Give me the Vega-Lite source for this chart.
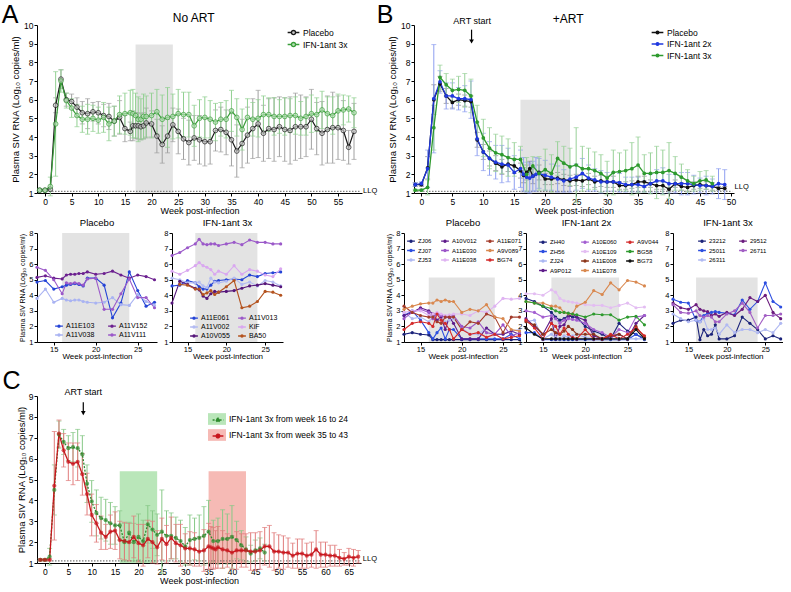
{
"$schema": "https://vega.github.io/schema/vega-lite/v6.json",
"padding": {"left": 1, "top": 3, "right": 0, "bottom": 0},
"config": {
  "font": "Liberation Sans, Arial, DejaVu Sans, sans-serif",
  "view": {"stroke": null},
  "axis": {"grid": false, "domainColor": "#000", "domainWidth": 1, "tickColor": "#000", "tickWidth": 1, "tickSize": 3, "labelColor": "#000", "titleColor": "#000", "labelFontSize": 8.5, "titleFontSize": 9, "titleFontWeight": "normal", "labelPadding": 1, "titlePadding": 2},
  "title": {"fontWeight": "normal", "fontSize": 9.5, "color": "#000", "offset": 2},
  "legend": {"labelColor": "#000", "padding": 0, "rowPadding": 0, "columnPadding": 5, "labelOffset": 3, "symbolStrokeWidth": 1.3, "titlePadding": 0}
},
"datasets": {
"at": [
{"w":-1,"g":"Placebo","v":1.15,"e":0.05},{"w":0,"g":"Placebo","v":1.15,"e":0.05},{"w":1,"g":"Placebo","v":1.2,"e":0.1},{"w":2,"g":"Placebo","v":5.7,"e":0.4},{"w":3,"g":"Placebo","v":7.1,"e":0.5},{"w":4,"g":"Placebo","v":6.0,"e":0.35},{"w":5,"g":"Placebo","v":5.9,"e":0.4},{"w":6,"g":"Placebo","v":5.6,"e":0.5},{"w":7,"g":"Placebo","v":5.3,"e":0.6},{"w":8,"g":"Placebo","v":5.25,"e":0.8},{"w":9,"g":"Placebo","v":5.35,"e":0.5},{"w":10,"g":"Placebo","v":5.3,"e":0.6},{"w":11,"g":"Placebo","v":5.15,"e":0.6},{"w":12,"g":"Placebo","v":5.1,"e":0.7},{"w":13,"g":"Placebo","v":4.85,"e":0.8},{"w":14,"g":"Placebo","v":5.05,"e":0.9},{"w":15,"g":"Placebo","v":4.45,"e":0.7},{"w":16,"g":"Placebo","v":4.3,"e":0.5},{"w":16.5,"g":"Placebo","v":4.6,"e":0.8},{"w":17,"g":"Placebo","v":4.6,"e":0.7},{"w":17.5,"g":"Placebo","v":4.6,"e":0.7},{"w":18,"g":"Placebo","v":4.55,"e":0.7},{"w":18.5,"g":"Placebo","v":4.6,"e":0.7},{"w":19,"g":"Placebo","v":4.75,"e":0.8},{"w":20,"g":"Placebo","v":4.7,"e":0.7},{"w":21,"g":"Placebo","v":4.05,"e":0.9},{"w":22,"g":"Placebo","v":3.6,"e":1.0},{"w":23,"g":"Placebo","v":4.05,"e":0.9},{"w":24,"g":"Placebo","v":4.65,"e":0.9},{"w":25,"g":"Placebo","v":4.3,"e":1.2},{"w":26,"g":"Placebo","v":3.9,"e":1.1},{"w":27,"g":"Placebo","v":3.7,"e":1.2},{"w":28,"g":"Placebo","v":3.95,"e":1.2},{"w":29,"g":"Placebo","v":3.85,"e":1.3},{"w":30,"g":"Placebo","v":3.75,"e":1.3},{"w":31,"g":"Placebo","v":3.75,"e":1.2},{"w":32,"g":"Placebo","v":4.35,"e":1.1},{"w":33,"g":"Placebo","v":4.4,"e":1.2},{"w":34,"g":"Placebo","v":4.25,"e":1.2},{"w":35,"g":"Placebo","v":3.85,"e":1.4},{"w":36,"g":"Placebo","v":3.25,"e":1.4},{"w":37,"g":"Placebo","v":3.65,"e":1.3},{"w":38,"g":"Placebo","v":4.1,"e":1.5},{"w":39,"g":"Placebo","v":4.45,"e":1.6},{"w":40,"g":"Placebo","v":4.7,"e":1.8},{"w":41,"g":"Placebo","v":4.2,"e":1.5},{"w":42,"g":"Placebo","v":4.45,"e":1.6},{"w":43,"g":"Placebo","v":4.4,"e":1.7},{"w":44,"g":"Placebo","v":4.55,"e":1.6},{"w":45,"g":"Placebo","v":4.4,"e":1.7},{"w":46,"g":"Placebo","v":4.35,"e":1.8},{"w":47,"g":"Placebo","v":4.55,"e":1.8},{"w":48,"g":"Placebo","v":4.55,"e":1.7},{"w":49,"g":"Placebo","v":4.55,"e":1.6},{"w":50,"g":"Placebo","v":4.95,"e":1.6},{"w":51,"g":"Placebo","v":4.45,"e":1.4},{"w":52,"g":"Placebo","v":4.2,"e":1.7},{"w":53,"g":"Placebo","v":4.4,"e":1.8},{"w":54,"g":"Placebo","v":4.5,"e":1.9},{"w":55,"g":"Placebo","v":4.5,"e":1.7},{"w":56,"g":"Placebo","v":4.35,"e":1.6},{"w":57,"g":"Placebo","v":3.45,"e":0.9},{"w":58,"g":"Placebo","v":4.3,"e":1.5},
{"w":-1,"g":"IFN-1ant 3x","v":1.15,"e":0.05},{"w":0,"g":"IFN-1ant 3x","v":1.15,"e":0.05},{"w":1,"g":"IFN-1ant 3x","v":1.35,"e":0.5},{"w":2,"g":"IFN-1ant 3x","v":4.7,"e":2.8},{"w":3,"g":"IFN-1ant 3x","v":7.0,"e":0.6},{"w":4,"g":"IFN-1ant 3x","v":5.95,"e":0.4},{"w":5,"g":"IFN-1ant 3x","v":5.55,"e":0.5},{"w":6,"g":"IFN-1ant 3x","v":5.15,"e":0.6},{"w":7,"g":"IFN-1ant 3x","v":4.95,"e":0.7},{"w":8,"g":"IFN-1ant 3x","v":4.95,"e":0.8},{"w":9,"g":"IFN-1ant 3x","v":5.0,"e":0.7},{"w":10,"g":"IFN-1ant 3x","v":4.9,"e":0.7},{"w":11,"g":"IFN-1ant 3x","v":5.05,"e":0.8},{"w":12,"g":"IFN-1ant 3x","v":4.7,"e":0.9},{"w":13,"g":"IFN-1ant 3x","v":4.85,"e":0.8},{"w":14,"g":"IFN-1ant 3x","v":5.2,"e":1.0},{"w":15,"g":"IFN-1ant 3x","v":5.25,"e":1.1},{"w":16,"g":"IFN-1ant 3x","v":5.3,"e":1.2},{"w":16.5,"g":"IFN-1ant 3x","v":5.25,"e":1.3},{"w":17,"g":"IFN-1ant 3x","v":5.15,"e":1.2},{"w":17.5,"g":"IFN-1ant 3x","v":4.95,"e":1.2},{"w":18,"g":"IFN-1ant 3x","v":4.95,"e":1.1},{"w":18.5,"g":"IFN-1ant 3x","v":5.1,"e":1.2},{"w":19,"g":"IFN-1ant 3x","v":5.1,"e":1.1},{"w":20,"g":"IFN-1ant 3x","v":5.15,"e":1.2},{"w":21,"g":"IFN-1ant 3x","v":5.35,"e":1.2},{"w":22,"g":"IFN-1ant 3x","v":4.95,"e":1.3},{"w":23,"g":"IFN-1ant 3x","v":5.05,"e":1.6},{"w":24,"g":"IFN-1ant 3x","v":5.1,"e":1.2},{"w":25,"g":"IFN-1ant 3x","v":5.25,"e":1.3},{"w":26,"g":"IFN-1ant 3x","v":5.2,"e":1.2},{"w":27,"g":"IFN-1ant 3x","v":5.2,"e":1.2},{"w":28,"g":"IFN-1ant 3x","v":4.6,"e":1.1},{"w":29,"g":"IFN-1ant 3x","v":5.0,"e":1.0},{"w":30,"g":"IFN-1ant 3x","v":5.05,"e":1.1},{"w":31,"g":"IFN-1ant 3x","v":4.95,"e":1.0},{"w":32,"g":"IFN-1ant 3x","v":4.8,"e":1.0},{"w":33,"g":"IFN-1ant 3x","v":4.95,"e":0.9},{"w":34,"g":"IFN-1ant 3x","v":4.95,"e":1.0},{"w":35,"g":"IFN-1ant 3x","v":5.4,"e":1.1},{"w":36,"g":"IFN-1ant 3x","v":5.05,"e":1.0},{"w":37,"g":"IFN-1ant 3x","v":4.4,"e":1.1},{"w":38,"g":"IFN-1ant 3x","v":5.05,"e":1.0},{"w":39,"g":"IFN-1ant 3x","v":4.95,"e":0.9},{"w":40,"g":"IFN-1ant 3x","v":5.0,"e":1.0},{"w":41,"g":"IFN-1ant 3x","v":5.2,"e":1.0},{"w":42,"g":"IFN-1ant 3x","v":5.2,"e":0.9},{"w":43,"g":"IFN-1ant 3x","v":5.1,"e":1.0},{"w":44,"g":"IFN-1ant 3x","v":5.1,"e":0.9},{"w":45,"g":"IFN-1ant 3x","v":5.1,"e":1.0},{"w":46,"g":"IFN-1ant 3x","v":5.15,"e":0.9},{"w":47,"g":"IFN-1ant 3x","v":5.15,"e":1.0},{"w":48,"g":"IFN-1ant 3x","v":5.0,"e":0.9},{"w":49,"g":"IFN-1ant 3x","v":5.1,"e":1.0},{"w":50,"g":"IFN-1ant 3x","v":5.25,"e":1.0},{"w":51,"g":"IFN-1ant 3x","v":5.2,"e":0.9},{"w":52,"g":"IFN-1ant 3x","v":5.45,"e":1.0},{"w":53,"g":"IFN-1ant 3x","v":5.25,"e":0.9},{"w":54,"g":"IFN-1ant 3x","v":5.15,"e":1.0},{"w":55,"g":"IFN-1ant 3x","v":5.4,"e":0.9},{"w":56,"g":"IFN-1ant 3x","v":5.45,"e":0.8},{"w":57,"g":"IFN-1ant 3x","v":5.5,"e":0.7},{"w":58,"g":"IFN-1ant 3x","v":5.3,"e":0.8}
],
"bt": [
{"w":-1,"g":"Placebo","v":1.45,"e":0.1},{"w":0,"g":"Placebo","v":1.45,"e":0.1},{"w":1,"g":"Placebo","v":2.35,"e":0.6},{"w":2,"g":"Placebo","v":6.0,"e":0.8},{"w":3,"g":"Placebo","v":6.85,"e":0.4},{"w":4,"g":"Placebo","v":6.2,"e":0.4},{"w":5,"g":"Placebo","v":5.85,"e":0.3},{"w":6,"g":"Placebo","v":6.0,"e":0.3},{"w":7,"g":"Placebo","v":5.95,"e":0.3},{"w":8,"g":"Placebo","v":5.9,"e":0.3},{"w":9,"g":"Placebo","v":3.85,"e":0.4},{"w":10,"g":"Placebo","v":3.2,"e":0.4},{"w":11,"g":"Placebo","v":2.85,"e":0.4},{"w":12,"g":"Placebo","v":2.6,"e":0.4},{"w":13,"g":"Placebo","v":2.4,"e":0.4},{"w":14,"g":"Placebo","v":2.55,"e":0.4},{"w":15,"g":"Placebo","v":2.45,"e":0.4},{"w":16,"g":"Placebo","v":2.2,"e":0.4},{"w":16.5,"g":"Placebo","v":1.95,"e":0.4},{"w":17,"g":"Placebo","v":2.1,"e":0.4},{"w":17.5,"g":"Placebo","v":2.3,"e":0.4},{"w":18,"g":"Placebo","v":1.9,"e":0.4},{"w":19,"g":"Placebo","v":2.1,"e":0.4},{"w":20,"g":"Placebo","v":1.75,"e":0.3},{"w":21,"g":"Placebo","v":1.75,"e":0.3},{"w":22,"g":"Placebo","v":1.8,"e":0.3},{"w":23,"g":"Placebo","v":1.7,"e":0.3},{"w":24,"g":"Placebo","v":1.65,"e":0.3},{"w":25,"g":"Placebo","v":1.7,"e":0.3},{"w":26,"g":"Placebo","v":1.65,"e":0.3},{"w":27,"g":"Placebo","v":1.75,"e":0.3},{"w":28,"g":"Placebo","v":1.6,"e":0.3},{"w":29,"g":"Placebo","v":1.65,"e":0.3},{"w":30,"g":"Placebo","v":1.6,"e":0.3},{"w":31,"g":"Placebo","v":1.6,"e":0.3},{"w":32,"g":"Placebo","v":1.4,"e":0.2},{"w":33,"g":"Placebo","v":1.4,"e":0.2},{"w":34,"g":"Placebo","v":1.45,"e":0.2},{"w":35,"g":"Placebo","v":1.6,"e":0.3},{"w":36,"g":"Placebo","v":1.6,"e":0.3},{"w":37,"g":"Placebo","v":1.5,"e":0.2},{"w":38,"g":"Placebo","v":1.4,"e":0.2},{"w":39,"g":"Placebo","v":1.4,"e":0.2},{"w":40,"g":"Placebo","v":1.2,"e":0.1},{"w":41,"g":"Placebo","v":1.5,"e":0.2},{"w":42,"g":"Placebo","v":1.35,"e":0.2},{"w":43,"g":"Placebo","v":1.3,"e":0.2},{"w":44,"g":"Placebo","v":1.4,"e":0.2},{"w":45,"g":"Placebo","v":1.45,"e":0.2},{"w":46,"g":"Placebo","v":1.4,"e":0.2},{"w":47,"g":"Placebo","v":1.35,"e":0.2},{"w":48,"g":"Placebo","v":1.25,"e":0.1},{"w":49,"g":"Placebo","v":1.25,"e":0.1},
{"w":-1,"g":"IFN-1ant 2x","v":1.45,"e":0.1},{"w":0,"g":"IFN-1ant 2x","v":1.5,"e":0.1},{"w":1,"g":"IFN-1ant 2x","v":2.3,"e":1.0},{"w":2,"g":"IFN-1ant 2x","v":6.05,"e":2.9},{"w":3,"g":"IFN-1ant 2x","v":6.95,"e":0.6},{"w":4,"g":"IFN-1ant 2x","v":6.2,"e":0.7},{"w":5,"g":"IFN-1ant 2x","v":6.2,"e":0.7},{"w":6,"g":"IFN-1ant 2x","v":6.05,"e":0.6},{"w":7,"g":"IFN-1ant 2x","v":6.05,"e":0.7},{"w":8,"g":"IFN-1ant 2x","v":6.0,"e":1.0},{"w":9,"g":"IFN-1ant 2x","v":3.9,"e":0.9},{"w":10,"g":"IFN-1ant 2x","v":3.2,"e":1.0},{"w":11,"g":"IFN-1ant 2x","v":2.85,"e":0.9},{"w":12,"g":"IFN-1ant 2x","v":2.65,"e":0.9},{"w":13,"g":"IFN-1ant 2x","v":2.55,"e":1.0},{"w":14,"g":"IFN-1ant 2x","v":2.5,"e":0.9},{"w":15,"g":"IFN-1ant 2x","v":2.1,"e":0.9},{"w":16,"g":"IFN-1ant 2x","v":2.3,"e":1.0},{"w":16.5,"g":"IFN-1ant 2x","v":2.0,"e":0.9},{"w":17,"g":"IFN-1ant 2x","v":1.85,"e":0.8},{"w":17.5,"g":"IFN-1ant 2x","v":1.8,"e":0.8},{"w":18,"g":"IFN-1ant 2x","v":1.9,"e":0.8},{"w":18.5,"g":"IFN-1ant 2x","v":2.0,"e":0.9},{"w":19,"g":"IFN-1ant 2x","v":2.05,"e":0.8},{"w":20,"g":"IFN-1ant 2x","v":1.95,"e":0.8},{"w":21,"g":"IFN-1ant 2x","v":1.85,"e":0.7},{"w":22,"g":"IFN-1ant 2x","v":1.75,"e":0.7},{"w":23,"g":"IFN-1ant 2x","v":1.65,"e":0.6},{"w":24,"g":"IFN-1ant 2x","v":1.75,"e":0.7},{"w":25,"g":"IFN-1ant 2x","v":1.85,"e":0.7},{"w":26,"g":"IFN-1ant 2x","v":2.05,"e":0.8},{"w":27,"g":"IFN-1ant 2x","v":1.8,"e":0.7},{"w":28,"g":"IFN-1ant 2x","v":1.7,"e":0.6},{"w":29,"g":"IFN-1ant 2x","v":1.6,"e":0.6},{"w":30,"g":"IFN-1ant 2x","v":1.6,"e":0.5},{"w":31,"g":"IFN-1ant 2x","v":1.6,"e":0.5},{"w":32,"g":"IFN-1ant 2x","v":1.55,"e":0.5},{"w":33,"g":"IFN-1ant 2x","v":1.45,"e":0.4},{"w":34,"g":"IFN-1ant 2x","v":1.45,"e":0.4},{"w":35,"g":"IFN-1ant 2x","v":1.45,"e":0.4},{"w":36,"g":"IFN-1ant 2x","v":1.35,"e":0.3},{"w":37,"g":"IFN-1ant 2x","v":1.5,"e":0.5},{"w":38,"g":"IFN-1ant 2x","v":1.65,"e":0.6},{"w":39,"g":"IFN-1ant 2x","v":1.65,"e":0.7},{"w":40,"g":"IFN-1ant 2x","v":1.5,"e":0.5},{"w":41,"g":"IFN-1ant 2x","v":1.5,"e":0.5},{"w":42,"g":"IFN-1ant 2x","v":1.5,"e":0.6},{"w":43,"g":"IFN-1ant 2x","v":1.5,"e":0.6},{"w":44,"g":"IFN-1ant 2x","v":1.45,"e":0.5},{"w":45,"g":"IFN-1ant 2x","v":1.4,"e":0.4},{"w":46,"g":"IFN-1ant 2x","v":1.4,"e":0.5},{"w":47,"g":"IFN-1ant 2x","v":1.35,"e":0.4},{"w":48,"g":"IFN-1ant 2x","v":1.5,"e":0.8},{"w":49,"g":"IFN-1ant 2x","v":1.45,"e":0.8},
{"w":-1,"g":"IFN-1ant 3x","v":1.15,"e":0.05},{"w":0,"g":"IFN-1ant 3x","v":1.15,"e":0.05},{"w":1,"g":"IFN-1ant 3x","v":1.3,"e":0.4},{"w":2,"g":"IFN-1ant 3x","v":4.5,"e":1.2},{"w":3,"g":"IFN-1ant 3x","v":7.2,"e":0.65},{"w":4,"g":"IFN-1ant 3x","v":6.8,"e":0.6},{"w":5,"g":"IFN-1ant 3x","v":6.5,"e":0.6},{"w":6,"g":"IFN-1ant 3x","v":6.55,"e":0.7},{"w":7,"g":"IFN-1ant 3x","v":6.5,"e":0.9},{"w":8,"g":"IFN-1ant 3x","v":6.2,"e":0.9},{"w":9,"g":"IFN-1ant 3x","v":4.8,"e":0.9},{"w":10,"g":"IFN-1ant 3x","v":3.95,"e":1.0},{"w":11,"g":"IFN-1ant 3x","v":3.4,"e":1.1},{"w":12,"g":"IFN-1ant 3x","v":3.15,"e":1.0},{"w":13,"g":"IFN-1ant 3x","v":3.05,"e":1.0},{"w":14,"g":"IFN-1ant 3x","v":2.9,"e":1.0},{"w":15,"g":"IFN-1ant 3x","v":2.8,"e":0.9},{"w":16,"g":"IFN-1ant 3x","v":2.8,"e":0.7},{"w":17,"g":"IFN-1ant 3x","v":2.0,"e":0.9},{"w":18,"g":"IFN-1ant 3x","v":2.45,"e":0.5},{"w":19,"g":"IFN-1ant 3x","v":2.05,"e":0.9},{"w":20,"g":"IFN-1ant 3x","v":2.25,"e":1.1},{"w":21,"g":"IFN-1ant 3x","v":2.05,"e":1.0},{"w":22,"g":"IFN-1ant 3x","v":2.85,"e":0.9},{"w":23,"g":"IFN-1ant 3x","v":2.6,"e":0.9},{"w":24,"g":"IFN-1ant 3x","v":2.4,"e":1.0},{"w":25,"g":"IFN-1ant 3x","v":2.5,"e":2.0},{"w":26,"g":"IFN-1ant 3x","v":2.3,"e":1.2},{"w":27,"g":"IFN-1ant 3x","v":2.3,"e":1.1},{"w":28,"g":"IFN-1ant 3x","v":2.2,"e":1.0},{"w":29,"g":"IFN-1ant 3x","v":2.05,"e":1.0},{"w":30,"g":"IFN-1ant 3x","v":1.8,"e":0.9},{"w":31,"g":"IFN-1ant 3x","v":2.1,"e":1.2},{"w":32,"g":"IFN-1ant 3x","v":2.15,"e":1.0},{"w":33,"g":"IFN-1ant 3x","v":2.2,"e":1.1},{"w":34,"g":"IFN-1ant 3x","v":2.3,"e":1.4},{"w":35,"g":"IFN-1ant 3x","v":2.5,"e":1.5},{"w":36,"g":"IFN-1ant 3x","v":2.05,"e":1.0},{"w":37,"g":"IFN-1ant 3x","v":2.05,"e":1.1},{"w":38,"g":"IFN-1ant 3x","v":2.1,"e":1.4},{"w":39,"g":"IFN-1ant 3x","v":2.1,"e":1.2},{"w":40,"g":"IFN-1ant 3x","v":2.2,"e":1.5},{"w":41,"g":"IFN-1ant 3x","v":2.05,"e":0.9},{"w":42,"g":"IFN-1ant 3x","v":1.85,"e":0.7},{"w":43,"g":"IFN-1ant 3x","v":1.65,"e":0.6},{"w":44,"g":"IFN-1ant 3x","v":1.5,"e":0.4},{"w":45,"g":"IFN-1ant 3x","v":1.65,"e":0.5},{"w":46,"g":"IFN-1ant 3x","v":1.7,"e":0.5},{"w":47,"g":"IFN-1ant 3x","v":1.5,"e":0.4}
],
"cc": [
{"w":-1,"g":"IFN-1ant 3x from week 16 to 24","v":1.15,"e":0.05},{"w":0,"g":"IFN-1ant 3x from week 16 to 24","v":1.15,"e":0.05},{"w":1,"g":"IFN-1ant 3x from week 16 to 24","v":1.3,"e":0.4},{"w":2,"g":"IFN-1ant 3x from week 16 to 24","v":4.5,"e":1.2},{"w":3,"g":"IFN-1ant 3x from week 16 to 24","v":7.15,"e":0.65},{"w":4,"g":"IFN-1ant 3x from week 16 to 24","v":6.8,"e":0.6},{"w":5,"g":"IFN-1ant 3x from week 16 to 24","v":6.5,"e":0.6},{"w":6,"g":"IFN-1ant 3x from week 16 to 24","v":6.55,"e":0.7},{"w":7,"g":"IFN-1ant 3x from week 16 to 24","v":6.5,"e":0.9},{"w":8,"g":"IFN-1ant 3x from week 16 to 24","v":6.2,"e":0.9},{"w":9,"g":"IFN-1ant 3x from week 16 to 24","v":4.8,"e":0.9},{"w":10,"g":"IFN-1ant 3x from week 16 to 24","v":3.95,"e":1.0},{"w":11,"g":"IFN-1ant 3x from week 16 to 24","v":3.4,"e":1.1},{"w":12,"g":"IFN-1ant 3x from week 16 to 24","v":3.15,"e":1.0},{"w":13,"g":"IFN-1ant 3x from week 16 to 24","v":3.05,"e":1.0},{"w":14,"g":"IFN-1ant 3x from week 16 to 24","v":2.9,"e":1.0},{"w":15,"g":"IFN-1ant 3x from week 16 to 24","v":2.8,"e":0.9},{"w":16,"g":"IFN-1ant 3x from week 16 to 24","v":2.8,"e":0.7},{"w":17,"g":"IFN-1ant 3x from week 16 to 24","v":2.0,"e":0.9},{"w":18,"g":"IFN-1ant 3x from week 16 to 24","v":2.45,"e":0.5},{"w":19,"g":"IFN-1ant 3x from week 16 to 24","v":2.0,"e":0.9},{"w":20,"g":"IFN-1ant 3x from week 16 to 24","v":2.25,"e":1.1},{"w":21,"g":"IFN-1ant 3x from week 16 to 24","v":2.05,"e":1.0},{"w":22,"g":"IFN-1ant 3x from week 16 to 24","v":2.85,"e":0.9},{"w":23,"g":"IFN-1ant 3x from week 16 to 24","v":2.6,"e":0.9},{"w":24,"g":"IFN-1ant 3x from week 16 to 24","v":2.35,"e":1.0},{"w":25,"g":"IFN-1ant 3x from week 16 to 24","v":2.5,"e":2.0},{"w":26,"g":"IFN-1ant 3x from week 16 to 24","v":2.3,"e":1.2},{"w":27,"g":"IFN-1ant 3x from week 16 to 24","v":2.3,"e":1.1},{"w":28,"g":"IFN-1ant 3x from week 16 to 24","v":2.2,"e":1.0},{"w":29,"g":"IFN-1ant 3x from week 16 to 24","v":2.05,"e":1.0},{"w":30,"g":"IFN-1ant 3x from week 16 to 24","v":1.8,"e":0.9},{"w":31,"g":"IFN-1ant 3x from week 16 to 24","v":2.1,"e":1.2},{"w":32,"g":"IFN-1ant 3x from week 16 to 24","v":2.15,"e":1.0},{"w":33,"g":"IFN-1ant 3x from week 16 to 24","v":2.2,"e":1.1},{"w":34,"g":"IFN-1ant 3x from week 16 to 24","v":2.3,"e":1.4},{"w":35,"g":"IFN-1ant 3x from week 16 to 24","v":2.5,"e":1.5},{"w":36,"g":"IFN-1ant 3x from week 16 to 24","v":2.05,"e":1.0},{"w":37,"g":"IFN-1ant 3x from week 16 to 24","v":2.05,"e":1.1},{"w":38,"g":"IFN-1ant 3x from week 16 to 24","v":2.15,"e":1.4},{"w":39,"g":"IFN-1ant 3x from week 16 to 24","v":2.15,"e":1.2},{"w":40,"g":"IFN-1ant 3x from week 16 to 24","v":2.25,"e":1.5},{"w":41,"g":"IFN-1ant 3x from week 16 to 24","v":2.1,"e":0.9},{"w":42,"g":"IFN-1ant 3x from week 16 to 24","v":1.85,"e":0.7},{"w":43,"g":"IFN-1ant 3x from week 16 to 24","v":1.65,"e":0.6},{"w":44,"g":"IFN-1ant 3x from week 16 to 24","v":1.45,"e":0.4},{"w":45,"g":"IFN-1ant 3x from week 16 to 24","v":1.6,"e":0.5},{"w":46,"g":"IFN-1ant 3x from week 16 to 24","v":1.7,"e":0.5},{"w":47,"g":"IFN-1ant 3x from week 16 to 24","v":1.5,"e":0.4},
{"w":-1,"g":"IFN-1ant 3x from week 35 to 43","v":1.15,"e":0.05},{"w":0,"g":"IFN-1ant 3x from week 35 to 43","v":1.15,"e":0.05},{"w":1,"g":"IFN-1ant 3x from week 35 to 43","v":1.15,"e":0.05},{"w":2,"g":"IFN-1ant 3x from week 35 to 43","v":4.7,"e":2.6},{"w":3,"g":"IFN-1ant 3x from week 35 to 43","v":7.2,"e":0.65},{"w":4,"g":"IFN-1ant 3x from week 35 to 43","v":6.4,"e":0.8},{"w":5,"g":"IFN-1ant 3x from week 35 to 43","v":5.85,"e":0.9},{"w":6,"g":"IFN-1ant 3x from week 35 to 43","v":5.75,"e":1.0},{"w":7,"g":"IFN-1ant 3x from week 35 to 43","v":5.85,"e":0.9},{"w":8,"g":"IFN-1ant 3x from week 35 to 43","v":5.25,"e":1.0},{"w":9,"g":"IFN-1ant 3x from week 35 to 43","v":4.3,"e":1.0},{"w":10,"g":"IFN-1ant 3x from week 35 to 43","v":3.3,"e":1.0},{"w":11,"g":"IFN-1ant 3x from week 35 to 43","v":2.9,"e":0.9},{"w":12,"g":"IFN-1ant 3x from week 35 to 43","v":2.45,"e":0.8},{"w":13,"g":"IFN-1ant 3x from week 35 to 43","v":2.25,"e":0.6},{"w":14,"g":"IFN-1ant 3x from week 35 to 43","v":2.5,"e":0.8},{"w":15,"g":"IFN-1ant 3x from week 35 to 43","v":2.55,"e":0.9},{"w":16,"g":"IFN-1ant 3x from week 35 to 43","v":2.1,"e":0.9},{"w":17,"g":"IFN-1ant 3x from week 35 to 43","v":2.05,"e":0.9},{"w":18,"g":"IFN-1ant 3x from week 35 to 43","v":2.0,"e":0.9},{"w":19,"g":"IFN-1ant 3x from week 35 to 43","v":2.25,"e":1.0},{"w":20,"g":"IFN-1ant 3x from week 35 to 43","v":1.95,"e":0.9},{"w":21,"g":"IFN-1ant 3x from week 35 to 43","v":1.85,"e":1.0},{"w":22,"g":"IFN-1ant 3x from week 35 to 43","v":2.15,"e":0.9},{"w":23,"g":"IFN-1ant 3x from week 35 to 43","v":2.0,"e":1.0},{"w":24,"g":"IFN-1ant 3x from week 35 to 43","v":1.75,"e":0.8},{"w":25,"g":"IFN-1ant 3x from week 35 to 43","v":2.15,"e":1.0},{"w":26,"g":"IFN-1ant 3x from week 35 to 43","v":1.9,"e":0.9},{"w":27,"g":"IFN-1ant 3x from week 35 to 43","v":2.2,"e":1.0},{"w":28,"g":"IFN-1ant 3x from week 35 to 43","v":1.95,"e":0.9},{"w":29,"g":"IFN-1ant 3x from week 35 to 43","v":1.85,"e":1.0},{"w":30,"g":"IFN-1ant 3x from week 35 to 43","v":1.7,"e":0.7},{"w":31,"g":"IFN-1ant 3x from week 35 to 43","v":1.7,"e":0.8},{"w":32,"g":"IFN-1ant 3x from week 35 to 43","v":1.65,"e":0.8},{"w":33,"g":"IFN-1ant 3x from week 35 to 43","v":1.55,"e":0.7},{"w":34,"g":"IFN-1ant 3x from week 35 to 43","v":1.6,"e":1.0},{"w":35,"g":"IFN-1ant 3x from week 35 to 43","v":1.8,"e":1.1},{"w":35.5,"g":"IFN-1ant 3x from week 35 to 43","v":1.75,"e":1.0},{"w":36,"g":"IFN-1ant 3x from week 35 to 43","v":1.7,"e":1.0},{"w":36.5,"g":"IFN-1ant 3x from week 35 to 43","v":1.65,"e":0.9},{"w":37,"g":"IFN-1ant 3x from week 35 to 43","v":1.75,"e":1.0},{"w":38,"g":"IFN-1ant 3x from week 35 to 43","v":1.65,"e":0.9},{"w":39,"g":"IFN-1ant 3x from week 35 to 43","v":1.6,"e":0.8},{"w":40,"g":"IFN-1ant 3x from week 35 to 43","v":1.5,"e":0.8},{"w":41,"g":"IFN-1ant 3x from week 35 to 43","v":1.6,"e":0.9},{"w":42,"g":"IFN-1ant 3x from week 35 to 43","v":1.6,"e":0.8},{"w":43,"g":"IFN-1ant 3x from week 35 to 43","v":1.6,"e":0.8},{"w":44,"g":"IFN-1ant 3x from week 35 to 43","v":1.55,"e":0.9},{"w":45,"g":"IFN-1ant 3x from week 35 to 43","v":1.55,"e":0.9},{"w":46,"g":"IFN-1ant 3x from week 35 to 43","v":1.6,"e":0.9},{"w":47,"g":"IFN-1ant 3x from week 35 to 43","v":1.8,"e":0.9},{"w":48,"g":"IFN-1ant 3x from week 35 to 43","v":1.8,"e":1.0},{"w":49,"g":"IFN-1ant 3x from week 35 to 43","v":1.55,"e":0.9},{"w":50,"g":"IFN-1ant 3x from week 35 to 43","v":1.55,"e":0.8},{"w":51,"g":"IFN-1ant 3x from week 35 to 43","v":1.5,"e":0.8},{"w":52,"g":"IFN-1ant 3x from week 35 to 43","v":1.5,"e":0.7},{"w":53,"g":"IFN-1ant 3x from week 35 to 43","v":1.35,"e":0.6},{"w":54,"g":"IFN-1ant 3x from week 35 to 43","v":1.45,"e":0.7},{"w":55,"g":"IFN-1ant 3x from week 35 to 43","v":1.45,"e":0.7},{"w":56,"g":"IFN-1ant 3x from week 35 to 43","v":1.35,"e":0.6},{"w":57,"g":"IFN-1ant 3x from week 35 to 43","v":1.4,"e":0.6},{"w":58,"g":"IFN-1ant 3x from week 35 to 43","v":1.65,"e":0.9},{"w":59,"g":"IFN-1ant 3x from week 35 to 43","v":1.4,"e":0.6},{"w":60,"g":"IFN-1ant 3x from week 35 to 43","v":1.4,"e":0.6},{"w":61,"g":"IFN-1ant 3x from week 35 to 43","v":1.35,"e":0.5},{"w":62,"g":"IFN-1ant 3x from week 35 to 43","v":1.35,"e":0.5},{"w":63,"g":"IFN-1ant 3x from week 35 to 43","v":1.25,"e":0.4},{"w":64,"g":"IFN-1ant 3x from week 35 to 43","v":1.2,"e":0.3},{"w":65,"g":"IFN-1ant 3x from week 35 to 43","v":1.3,"e":0.4},{"w":66,"g":"IFN-1ant 3x from week 35 to 43","v":1.25,"e":0.4},{"w":67,"g":"IFN-1ant 3x from week 35 to 43","v":1.3,"e":0.3}
],
"ind": [
{"p":"AP","id":"A11E103","w":13,"v":4.85},{"p":"AP","id":"A11E103","w":14,"v":4.95},{"p":"AP","id":"A11E103","w":15,"v":4.4},{"p":"AP","id":"A11E103","w":16,"v":4.55},{"p":"AP","id":"A11E103","w":16.5,"v":4.65},{"p":"AP","id":"A11E103","w":17,"v":4.7},{"p":"AP","id":"A11E103","w":17.5,"v":4.75},{"p":"AP","id":"A11E103","w":18,"v":4.7},{"p":"AP","id":"A11E103","w":18.5,"v":4.6},{"p":"AP","id":"A11E103","w":19,"v":5.1},{"p":"AP","id":"A11E103","w":20,"v":5.1},{"p":"AP","id":"A11E103","w":21,"v":4.65},{"p":"AP","id":"A11E103","w":22,"v":2.55},{"p":"AP","id":"A11E103","w":23,"v":3.5},{"p":"AP","id":"A11E103","w":24,"v":5.5},{"p":"AP","id":"A11E103","w":25,"v":4.3},{"p":"AP","id":"A11E103","w":26,"v":3.3},{"p":"AP","id":"A11E103","w":27,"v":3.55},
{"p":"AP","id":"A11V038","w":13,"v":3.8},{"p":"AP","id":"A11V038","w":14,"v":4.4},{"p":"AP","id":"A11V038","w":15,"v":3.55},{"p":"AP","id":"A11V038","w":16,"v":3.8},{"p":"AP","id":"A11V038","w":16.5,"v":3.7},{"p":"AP","id":"A11V038","w":17,"v":3.65},{"p":"AP","id":"A11V038","w":17.5,"v":3.7},{"p":"AP","id":"A11V038","w":18,"v":3.7},{"p":"AP","id":"A11V038","w":18.5,"v":3.6},{"p":"AP","id":"A11V038","w":19,"v":3.55},{"p":"AP","id":"A11V038","w":20,"v":3.5},{"p":"AP","id":"A11V038","w":21,"v":3.55},{"p":"AP","id":"A11V038","w":22,"v":3.85},{"p":"AP","id":"A11V038","w":23,"v":3.4},{"p":"AP","id":"A11V038","w":24,"v":3.35},{"p":"AP","id":"A11V038","w":25,"v":4.05},{"p":"AP","id":"A11V038","w":26,"v":3.6},{"p":"AP","id":"A11V038","w":27,"v":3.35},
{"p":"AP","id":"A11V152","w":13,"v":5.15},{"p":"AP","id":"A11V152","w":14,"v":5.25},{"p":"AP","id":"A11V152","w":15,"v":5.1},{"p":"AP","id":"A11V152","w":16,"v":5.05},{"p":"AP","id":"A11V152","w":16.5,"v":5.3},{"p":"AP","id":"A11V152","w":17,"v":5.35},{"p":"AP","id":"A11V152","w":17.5,"v":5.35},{"p":"AP","id":"A11V152","w":18,"v":5.4},{"p":"AP","id":"A11V152","w":18.5,"v":5.4},{"p":"AP","id":"A11V152","w":19,"v":5.5},{"p":"AP","id":"A11V152","w":20,"v":5.35},{"p":"AP","id":"A11V152","w":21,"v":5.4},{"p":"AP","id":"A11V152","w":22,"v":5.55},{"p":"AP","id":"A11V152","w":23,"v":5.3},{"p":"AP","id":"A11V152","w":24,"v":5.1},{"p":"AP","id":"A11V152","w":25,"v":5.3},{"p":"AP","id":"A11V152","w":26,"v":5.2},{"p":"AP","id":"A11V152","w":27,"v":5.0},
{"p":"AP","id":"A11V111","w":13,"v":5.8},{"p":"AP","id":"A11V111","w":14,"v":5.6},{"p":"AP","id":"A11V111","w":15,"v":5.0},{"p":"AP","id":"A11V111","w":16,"v":4.1},{"p":"AP","id":"A11V111","w":16.5,"v":4.8},{"p":"AP","id":"A11V111","w":17,"v":4.75},{"p":"AP","id":"A11V111","w":17.5,"v":4.8},{"p":"AP","id":"A11V111","w":18,"v":4.75},{"p":"AP","id":"A11V111","w":18.5,"v":4.65},{"p":"AP","id":"A11V111","w":19,"v":5.05},{"p":"AP","id":"A11V111","w":20,"v":5.1},{"p":"AP","id":"A11V111","w":21,"v":3.1},{"p":"AP","id":"A11V111","w":22,"v":3.1},{"p":"AP","id":"A11V111","w":23,"v":4.1},{"p":"AP","id":"A11V111","w":24,"v":5.05},{"p":"AP","id":"A11V111","w":25,"v":3.85},{"p":"AP","id":"A11V111","w":26,"v":3.85},{"p":"AP","id":"A11V111","w":27,"v":3.2},
{"p":"AI","id":"A11E061","w":13,"v":4.6},{"p":"AI","id":"A11E061","w":14,"v":4.65},{"p":"AI","id":"A11E061","w":15,"v":4.95},{"p":"AI","id":"A11E061","w":16,"v":4.8},{"p":"AI","id":"A11E061","w":16.5,"v":4.55},{"p":"AI","id":"A11E061","w":17,"v":4.4},{"p":"AI","id":"A11E061","w":17.5,"v":4.4},{"p":"AI","id":"A11E061","w":18,"v":4.65},{"p":"AI","id":"A11E061","w":18.5,"v":4.9},{"p":"AI","id":"A11E061","w":19,"v":4.95},{"p":"AI","id":"A11E061","w":20,"v":5.0},{"p":"AI","id":"A11E061","w":21,"v":5.05},{"p":"AI","id":"A11E061","w":22,"v":5.0},{"p":"AI","id":"A11E061","w":23,"v":5.3},{"p":"AI","id":"A11E061","w":24,"v":5.2},{"p":"AI","id":"A11E061","w":25,"v":5.4},{"p":"AI","id":"A11E061","w":26,"v":5.45},{"p":"AI","id":"A11E061","w":27,"v":5.5},
{"p":"AI","id":"A11V002","w":13,"v":5.1},{"p":"AI","id":"A11V002","w":14,"v":5.0},{"p":"AI","id":"A11V002","w":15,"v":4.8},{"p":"AI","id":"A11V002","w":16,"v":4.8},{"p":"AI","id":"A11V002","w":16.5,"v":4.85},{"p":"AI","id":"A11V002","w":17,"v":4.6},{"p":"AI","id":"A11V002","w":17.5,"v":4.5},{"p":"AI","id":"A11V002","w":18,"v":5.1},{"p":"AI","id":"A11V002","w":18.5,"v":4.85},{"p":"AI","id":"A11V002","w":19,"v":4.8},{"p":"AI","id":"A11V002","w":20,"v":4.9},{"p":"AI","id":"A11V002","w":21,"v":5.1},{"p":"AI","id":"A11V002","w":22,"v":4.7},{"p":"AI","id":"A11V002","w":23,"v":4.85},{"p":"AI","id":"A11V002","w":24,"v":4.6},{"p":"AI","id":"A11V002","w":25,"v":4.95},{"p":"AI","id":"A11V002","w":26,"v":4.85},{"p":"AI","id":"A11V002","w":27,"v":4.6},
{"p":"AI","id":"A10V055","w":13,"v":3.5},{"p":"AI","id":"A10V055","w":14,"v":4.9},{"p":"AI","id":"A10V055","w":15,"v":4.7},{"p":"AI","id":"A10V055","w":16,"v":4.45},{"p":"AI","id":"A10V055","w":16.5,"v":4.35},{"p":"AI","id":"A10V055","w":17,"v":3.95},{"p":"AI","id":"A10V055","w":17.5,"v":3.8},{"p":"AI","id":"A10V055","w":18,"v":4.1},{"p":"AI","id":"A10V055","w":18.5,"v":4.25},{"p":"AI","id":"A10V055","w":19,"v":4.2},{"p":"AI","id":"A10V055","w":20,"v":4.25},{"p":"AI","id":"A10V055","w":21,"v":4.3},{"p":"AI","id":"A10V055","w":22,"v":4.45},{"p":"AI","id":"A10V055","w":23,"v":4.6},{"p":"AI","id":"A10V055","w":24,"v":4.65},{"p":"AI","id":"A10V055","w":25,"v":4.75},{"p":"AI","id":"A10V055","w":26,"v":4.65},{"p":"AI","id":"A10V055","w":27,"v":4.55},
{"p":"AI","id":"A11V013","w":13,"v":6.55},{"p":"AI","id":"A11V013","w":14,"v":6.75},{"p":"AI","id":"A11V013","w":15,"v":7.05},{"p":"AI","id":"A11V013","w":16,"v":7.3},{"p":"AI","id":"A11V013","w":16.5,"v":7.6},{"p":"AI","id":"A11V013","w":17,"v":7.3},{"p":"AI","id":"A11V013","w":17.5,"v":7.25},{"p":"AI","id":"A11V013","w":18,"v":7.3},{"p":"AI","id":"A11V013","w":18.5,"v":7.3},{"p":"AI","id":"A11V013","w":19,"v":7.2},{"p":"AI","id":"A11V013","w":20,"v":7.3},{"p":"AI","id":"A11V013","w":21,"v":7.4},{"p":"AI","id":"A11V013","w":22,"v":7.25},{"p":"AI","id":"A11V013","w":23,"v":7.55},{"p":"AI","id":"A11V013","w":24,"v":7.4},{"p":"AI","id":"A11V013","w":25,"v":7.4},{"p":"AI","id":"A11V013","w":26,"v":7.3},{"p":"AI","id":"A11V013","w":27,"v":7.3},
{"p":"AI","id":"KiF","w":13,"v":5.55},{"p":"AI","id":"KiF","w":14,"v":5.35},{"p":"AI","id":"KiF","w":15,"v":5.6},{"p":"AI","id":"KiF","w":16,"v":5.9},{"p":"AI","id":"KiF","w":16.5,"v":6.1},{"p":"AI","id":"KiF","w":17,"v":5.9},{"p":"AI","id":"KiF","w":17.5,"v":5.8},{"p":"AI","id":"KiF","w":18,"v":5.65},{"p":"AI","id":"KiF","w":18.5,"v":5.35},{"p":"AI","id":"KiF","w":19,"v":5.55},{"p":"AI","id":"KiF","w":20,"v":5.35},{"p":"AI","id":"KiF","w":21,"v":5.9},{"p":"AI","id":"KiF","w":22,"v":5.35},{"p":"AI","id":"KiF","w":23,"v":5.65},{"p":"AI","id":"KiF","w":24,"v":5.55},{"p":"AI","id":"KiF","w":25,"v":5.3},{"p":"AI","id":"KiF","w":26,"v":5.2},{"p":"AI","id":"KiF","w":27,"v":5.7},
{"p":"AI","id":"BA50","w":14,"v":4.7},{"p":"AI","id":"BA50","w":15,"v":4.65},{"p":"AI","id":"BA50","w":16,"v":4.4},{"p":"AI","id":"BA50","w":16.5,"v":4.4},{"p":"AI","id":"BA50","w":17,"v":4.05},{"p":"AI","id":"BA50","w":17.5,"v":4.15},{"p":"AI","id":"BA50","w":18,"v":4.3},{"p":"AI","id":"BA50","w":18.5,"v":4.05},{"p":"AI","id":"BA50","w":19,"v":4.2},{"p":"AI","id":"BA50","w":20,"v":4.55},{"p":"AI","id":"BA50","w":21,"v":4.95},{"p":"AI","id":"BA50","w":22,"v":3.2},{"p":"AI","id":"BA50","w":23,"v":3.3},{"p":"AI","id":"BA50","w":24,"v":3.6},{"p":"AI","id":"BA50","w":25,"v":4.25},{"p":"AI","id":"BA50","w":26,"v":4.2},{"p":"AI","id":"BA50","w":27,"v":4.0},
{"p":"BP","id":"ZJ06","w":13,"v":1.5},{"p":"BP","id":"ZJ06","w":14,"v":1.6},{"p":"BP","id":"ZJ06","w":15,"v":1.5},{"p":"BP","id":"ZJ06","w":16,"v":1.45},{"p":"BP","id":"ZJ06","w":16.5,"v":1.15},{"p":"BP","id":"ZJ06","w":17,"v":1.15},{"p":"BP","id":"ZJ06","w":17.5,"v":1.15},{"p":"BP","id":"ZJ06","w":18,"v":1.15},{"p":"BP","id":"ZJ06","w":18.5,"v":1.15},{"p":"BP","id":"ZJ06","w":19,"v":1.15},{"p":"BP","id":"ZJ06","w":20,"v":1.15},{"p":"BP","id":"ZJ06","w":21,"v":1.15},{"p":"BP","id":"ZJ06","w":22,"v":1.15},{"p":"BP","id":"ZJ06","w":23,"v":1.15},{"p":"BP","id":"ZJ06","w":24,"v":1.15},{"p":"BP","id":"ZJ06","w":25,"v":1.15},{"p":"BP","id":"ZJ06","w":26,"v":1.15},{"p":"BP","id":"ZJ06","w":27,"v":1.15},
{"p":"BP","id":"ZJ07","w":13,"v":2.7},{"p":"BP","id":"ZJ07","w":14,"v":3.0},{"p":"BP","id":"ZJ07","w":15,"v":2.4},{"p":"BP","id":"ZJ07","w":16,"v":1.6},{"p":"BP","id":"ZJ07","w":16.5,"v":1.2},{"p":"BP","id":"ZJ07","w":17,"v":1.6},{"p":"BP","id":"ZJ07","w":17.5,"v":1.9},{"p":"BP","id":"ZJ07","w":18,"v":1.2},{"p":"BP","id":"ZJ07","w":18.5,"v":1.8},{"p":"BP","id":"ZJ07","w":19,"v":1.8},{"p":"BP","id":"ZJ07","w":20,"v":1.2},{"p":"BP","id":"ZJ07","w":21,"v":1.2},{"p":"BP","id":"ZJ07","w":22,"v":1.2},{"p":"BP","id":"ZJ07","w":23,"v":1.2},{"p":"BP","id":"ZJ07","w":24,"v":1.2},{"p":"BP","id":"ZJ07","w":25,"v":1.2},{"p":"BP","id":"ZJ07","w":26,"v":1.5},{"p":"BP","id":"ZJ07","w":27,"v":1.2},
{"p":"BP","id":"ZJ53","w":13,"v":2.9},{"p":"BP","id":"ZJ53","w":14,"v":2.5},{"p":"BP","id":"ZJ53","w":15,"v":2.6},{"p":"BP","id":"ZJ53","w":16,"v":2.3},{"p":"BP","id":"ZJ53","w":16.5,"v":2.6},{"p":"BP","id":"ZJ53","w":17,"v":2.8},{"p":"BP","id":"ZJ53","w":17.5,"v":2.5},{"p":"BP","id":"ZJ53","w":18,"v":2.3},{"p":"BP","id":"ZJ53","w":18.5,"v":2.4},{"p":"BP","id":"ZJ53","w":19,"v":2.5},{"p":"BP","id":"ZJ53","w":20,"v":1.9},{"p":"BP","id":"ZJ53","w":21,"v":1.5},{"p":"BP","id":"ZJ53","w":22,"v":1.5},{"p":"BP","id":"ZJ53","w":23,"v":1.9},{"p":"BP","id":"ZJ53","w":24,"v":1.5},{"p":"BP","id":"ZJ53","w":25,"v":1.5},{"p":"BP","id":"ZJ53","w":26,"v":1.7},{"p":"BP","id":"ZJ53","w":27,"v":1.8},
{"p":"BP","id":"A10V012","w":13,"v":2.7},{"p":"BP","id":"A10V012","w":14,"v":2.9},{"p":"BP","id":"A10V012","w":15,"v":3.2},{"p":"BP","id":"A10V012","w":16,"v":3.0},{"p":"BP","id":"A10V012","w":16.5,"v":2.8},{"p":"BP","id":"A10V012","w":17,"v":2.4},{"p":"BP","id":"A10V012","w":17.5,"v":2.6},{"p":"BP","id":"A10V012","w":18,"v":1.8},{"p":"BP","id":"A10V012","w":18.5,"v":2.6},{"p":"BP","id":"A10V012","w":19,"v":2.2},{"p":"BP","id":"A10V012","w":20,"v":1.2},{"p":"BP","id":"A10V012","w":21,"v":1.2},{"p":"BP","id":"A10V012","w":22,"v":1.2},{"p":"BP","id":"A10V012","w":23,"v":1.9},{"p":"BP","id":"A10V012","w":24,"v":1.5},{"p":"BP","id":"A10V012","w":25,"v":1.5},{"p":"BP","id":"A10V012","w":26,"v":1.7},{"p":"BP","id":"A10V012","w":27,"v":1.5},
{"p":"BP","id":"A11E030","w":13,"v":2.5},{"p":"BP","id":"A11E030","w":14,"v":2.9},{"p":"BP","id":"A11E030","w":15,"v":3.1},{"p":"BP","id":"A11E030","w":16,"v":2.9},{"p":"BP","id":"A11E030","w":16.5,"v":2.5},{"p":"BP","id":"A11E030","w":17,"v":2.8},{"p":"BP","id":"A11E030","w":17.5,"v":2.7},{"p":"BP","id":"A11E030","w":18,"v":2.6},{"p":"BP","id":"A11E030","w":18.5,"v":2.6},{"p":"BP","id":"A11E030","w":19,"v":2.7},{"p":"BP","id":"A11E030","w":20,"v":2.0},{"p":"BP","id":"A11E030","w":21,"v":1.9},{"p":"BP","id":"A11E030","w":22,"v":2.3},{"p":"BP","id":"A11E030","w":23,"v":1.6},{"p":"BP","id":"A11E030","w":24,"v":1.5},{"p":"BP","id":"A11E030","w":25,"v":2.1},{"p":"BP","id":"A11E030","w":26,"v":1.4},{"p":"BP","id":"A11E030","w":27,"v":1.6},
{"p":"BP","id":"A11E038","w":13,"v":2.9},{"p":"BP","id":"A11E038","w":14,"v":3.0},{"p":"BP","id":"A11E038","w":15,"v":3.0},{"p":"BP","id":"A11E038","w":16,"v":2.7},{"p":"BP","id":"A11E038","w":16.5,"v":2.8},{"p":"BP","id":"A11E038","w":17,"v":2.9},{"p":"BP","id":"A11E038","w":17.5,"v":2.8},{"p":"BP","id":"A11E038","w":18,"v":2.7},{"p":"BP","id":"A11E038","w":18.5,"v":2.75},{"p":"BP","id":"A11E038","w":19,"v":2.8},{"p":"BP","id":"A11E038","w":20,"v":2.8},{"p":"BP","id":"A11E038","w":21,"v":2.7},{"p":"BP","id":"A11E038","w":22,"v":3.0},{"p":"BP","id":"A11E038","w":23,"v":2.9},{"p":"BP","id":"A11E038","w":24,"v":3.3},{"p":"BP","id":"A11E038","w":25,"v":3.8},{"p":"BP","id":"A11E038","w":26,"v":3.75},{"p":"BP","id":"A11E038","w":27,"v":3.8},
{"p":"BP","id":"A11E071","w":13,"v":3.3},{"p":"BP","id":"A11E071","w":14,"v":2.9},{"p":"BP","id":"A11E071","w":15,"v":2.7},{"p":"BP","id":"A11E071","w":16,"v":2.6},{"p":"BP","id":"A11E071","w":16.5,"v":2.6},{"p":"BP","id":"A11E071","w":17,"v":2.3},{"p":"BP","id":"A11E071","w":17.5,"v":2.2},{"p":"BP","id":"A11E071","w":18,"v":2.6},{"p":"BP","id":"A11E071","w":18.5,"v":2.6},{"p":"BP","id":"A11E071","w":19,"v":2.6},{"p":"BP","id":"A11E071","w":20,"v":1.8},{"p":"BP","id":"A11E071","w":21,"v":2.3},{"p":"BP","id":"A11E071","w":22,"v":2.2},{"p":"BP","id":"A11E071","w":23,"v":2.8},{"p":"BP","id":"A11E071","w":24,"v":2.6},{"p":"BP","id":"A11E071","w":25,"v":1.6},{"p":"BP","id":"A11E071","w":26,"v":2.6},{"p":"BP","id":"A11E071","w":27,"v":2.6},
{"p":"BP","id":"A9V089","w":13,"v":3.1},{"p":"BP","id":"A9V089","w":14,"v":3.3},{"p":"BP","id":"A9V089","w":15,"v":3.45},{"p":"BP","id":"A9V089","w":16,"v":3.5},{"p":"BP","id":"A9V089","w":16.5,"v":3.5},{"p":"BP","id":"A9V089","w":17,"v":3.7},{"p":"BP","id":"A9V089","w":17.5,"v":3.6},{"p":"BP","id":"A9V089","w":18,"v":3.7},{"p":"BP","id":"A9V089","w":18.5,"v":3.6},{"p":"BP","id":"A9V089","w":19,"v":3.6},{"p":"BP","id":"A9V089","w":20,"v":2.9},{"p":"BP","id":"A9V089","w":21,"v":3.1},{"p":"BP","id":"A9V089","w":22,"v":3.0},{"p":"BP","id":"A9V089","w":23,"v":3.4},{"p":"BP","id":"A9V089","w":24,"v":2.6},{"p":"BP","id":"A9V089","w":25,"v":2.5},{"p":"BP","id":"A9V089","w":26,"v":1.8},{"p":"BP","id":"A9V089","w":27,"v":1.7},
{"p":"BP","id":"BG74","w":13,"v":1.8},{"p":"BP","id":"BG74","w":14,"v":2.2},{"p":"BP","id":"BG74","w":15,"v":2.3},{"p":"BP","id":"BG74","w":16,"v":2.2},{"p":"BP","id":"BG74","w":16.5,"v":2.0},{"p":"BP","id":"BG74","w":17,"v":2.8},{"p":"BP","id":"BG74","w":17.5,"v":2.4},{"p":"BP","id":"BG74","w":18,"v":2.2},{"p":"BP","id":"BG74","w":18.5,"v":1.8},{"p":"BP","id":"BG74","w":19,"v":1.2},{"p":"BP","id":"BG74","w":20,"v":1.8},{"p":"BP","id":"BG74","w":21,"v":1.5},{"p":"BP","id":"BG74","w":22,"v":1.6},{"p":"BP","id":"BG74","w":23,"v":1.3},{"p":"BP","id":"BG74","w":24,"v":1.5},{"p":"BP","id":"BG74","w":25,"v":1.2},{"p":"BP","id":"BG74","w":26,"v":1.3},{"p":"BP","id":"BG74","w":27,"v":1.4},
{"p":"B2","id":"ZH40","w":13,"v":3.8},{"p":"B2","id":"ZH40","w":14,"v":3.6},{"p":"B2","id":"ZH40","w":15,"v":3.3},{"p":"B2","id":"ZH40","w":16,"v":2.9},{"p":"B2","id":"ZH40","w":16.5,"v":2.6},{"p":"B2","id":"ZH40","w":17,"v":2.4},{"p":"B2","id":"ZH40","w":17.5,"v":2.5},{"p":"B2","id":"ZH40","w":18,"v":2.7},{"p":"B2","id":"ZH40","w":18.5,"v":2.6},{"p":"B2","id":"ZH40","w":19,"v":2.6},{"p":"B2","id":"ZH40","w":20,"v":2.0},{"p":"B2","id":"ZH40","w":21,"v":1.7},{"p":"B2","id":"ZH40","w":22,"v":1.5},{"p":"B2","id":"ZH40","w":23,"v":1.2},{"p":"B2","id":"ZH40","w":24,"v":2.2},{"p":"B2","id":"ZH40","w":25,"v":1.7},{"p":"B2","id":"ZH40","w":26,"v":1.5},{"p":"B2","id":"ZH40","w":27,"v":1.2},
{"p":"B2","id":"ZH56","w":13,"v":1.6},{"p":"B2","id":"ZH56","w":14,"v":1.6},{"p":"B2","id":"ZH56","w":15,"v":1.15},{"p":"B2","id":"ZH56","w":16,"v":1.15},{"p":"B2","id":"ZH56","w":16.5,"v":1.15},{"p":"B2","id":"ZH56","w":17,"v":1.15},{"p":"B2","id":"ZH56","w":17.5,"v":1.15},{"p":"B2","id":"ZH56","w":18,"v":1.15},{"p":"B2","id":"ZH56","w":18.5,"v":1.15},{"p":"B2","id":"ZH56","w":19,"v":1.15},{"p":"B2","id":"ZH56","w":20,"v":1.15},{"p":"B2","id":"ZH56","w":21,"v":1.15},{"p":"B2","id":"ZH56","w":22,"v":1.15},{"p":"B2","id":"ZH56","w":23,"v":1.15},{"p":"B2","id":"ZH56","w":24,"v":1.15},{"p":"B2","id":"ZH56","w":25,"v":1.15},{"p":"B2","id":"ZH56","w":26,"v":1.5},{"p":"B2","id":"ZH56","w":27,"v":1.15},
{"p":"B2","id":"ZJ24","w":13,"v":2.3},{"p":"B2","id":"ZJ24","w":14,"v":2.4},{"p":"B2","id":"ZJ24","w":15,"v":1.2},{"p":"B2","id":"ZJ24","w":16,"v":1.5},{"p":"B2","id":"ZJ24","w":16.5,"v":1.3},{"p":"B2","id":"ZJ24","w":17,"v":1.2},{"p":"B2","id":"ZJ24","w":17.5,"v":1.4},{"p":"B2","id":"ZJ24","w":18,"v":1.3},{"p":"B2","id":"ZJ24","w":18.5,"v":1.4},{"p":"B2","id":"ZJ24","w":19,"v":1.5},{"p":"B2","id":"ZJ24","w":20,"v":1.3},{"p":"B2","id":"ZJ24","w":21,"v":1.2},{"p":"B2","id":"ZJ24","w":22,"v":1.2},{"p":"B2","id":"ZJ24","w":23,"v":1.2},{"p":"B2","id":"ZJ24","w":24,"v":1.2},{"p":"B2","id":"ZJ24","w":25,"v":1.2},{"p":"B2","id":"ZJ24","w":26,"v":1.2},{"p":"B2","id":"ZJ24","w":27,"v":1.2},
{"p":"B2","id":"A9P012","w":13,"v":2.5},{"p":"B2","id":"A9P012","w":14,"v":2.0},{"p":"B2","id":"A9P012","w":15,"v":1.5},{"p":"B2","id":"A9P012","w":16,"v":2.5},{"p":"B2","id":"A9P012","w":16.5,"v":1.2},{"p":"B2","id":"A9P012","w":17,"v":2.0},{"p":"B2","id":"A9P012","w":17.5,"v":2.1},{"p":"B2","id":"A9P012","w":18,"v":2.6},{"p":"B2","id":"A9P012","w":18.5,"v":2.8},{"p":"B2","id":"A9P012","w":19,"v":2.6},{"p":"B2","id":"A9P012","w":20,"v":2.4},{"p":"B2","id":"A9P012","w":21,"v":1.4},{"p":"B2","id":"A9P012","w":22,"v":1.2},{"p":"B2","id":"A9P012","w":23,"v":1.3},{"p":"B2","id":"A9P012","w":24,"v":1.5},{"p":"B2","id":"A9P012","w":25,"v":1.2},{"p":"B2","id":"A9P012","w":26,"v":2.2},{"p":"B2","id":"A9P012","w":27,"v":2.7},
{"p":"B2","id":"A10E060","w":13,"v":3.0},{"p":"B2","id":"A10E060","w":14,"v":2.9},{"p":"B2","id":"A10E060","w":15,"v":2.6},{"p":"B2","id":"A10E060","w":16,"v":2.7},{"p":"B2","id":"A10E060","w":16.5,"v":2.5},{"p":"B2","id":"A10E060","w":17,"v":2.2},{"p":"B2","id":"A10E060","w":17.5,"v":2.4},{"p":"B2","id":"A10E060","w":18,"v":2.5},{"p":"B2","id":"A10E060","w":18.5,"v":2.45},{"p":"B2","id":"A10E060","w":19,"v":2.4},{"p":"B2","id":"A10E060","w":20,"v":2.2},{"p":"B2","id":"A10E060","w":21,"v":1.8},{"p":"B2","id":"A10E060","w":22,"v":1.6},{"p":"B2","id":"A10E060","w":23,"v":1.3},{"p":"B2","id":"A10E060","w":24,"v":1.8},{"p":"B2","id":"A10E060","w":25,"v":1.6},{"p":"B2","id":"A10E060","w":26,"v":2.6},{"p":"B2","id":"A10E060","w":27,"v":2.7},
{"p":"B2","id":"A10E109","w":13,"v":4.1},{"p":"B2","id":"A10E109","w":14,"v":4.1},{"p":"B2","id":"A10E109","w":15,"v":4.0},{"p":"B2","id":"A10E109","w":16,"v":4.35},{"p":"B2","id":"A10E109","w":16.5,"v":4.2},{"p":"B2","id":"A10E109","w":17,"v":3.8},{"p":"B2","id":"A10E109","w":17.5,"v":3.65},{"p":"B2","id":"A10E109","w":18,"v":3.6},{"p":"B2","id":"A10E109","w":18.5,"v":3.55},{"p":"B2","id":"A10E109","w":19,"v":3.5},{"p":"B2","id":"A10E109","w":20,"v":3.4},{"p":"B2","id":"A10E109","w":21,"v":3.35},{"p":"B2","id":"A10E109","w":22,"v":3.35},{"p":"B2","id":"A10E109","w":23,"v":3.2},{"p":"B2","id":"A10E109","w":24,"v":3.35},{"p":"B2","id":"A10E109","w":25,"v":3.5},{"p":"B2","id":"A10E109","w":26,"v":3.2},{"p":"B2","id":"A10E109","w":27,"v":3.25},
{"p":"B2","id":"A11E008","w":13,"v":2.3},{"p":"B2","id":"A11E008","w":14,"v":2.1},{"p":"B2","id":"A11E008","w":15,"v":1.5},{"p":"B2","id":"A11E008","w":16,"v":1.8},{"p":"B2","id":"A11E008","w":16.5,"v":1.6},{"p":"B2","id":"A11E008","w":17,"v":1.5},{"p":"B2","id":"A11E008","w":17.5,"v":1.7},{"p":"B2","id":"A11E008","w":18,"v":2.0},{"p":"B2","id":"A11E008","w":18.5,"v":1.8},{"p":"B2","id":"A11E008","w":19,"v":1.5},{"p":"B2","id":"A11E008","w":20,"v":1.5},{"p":"B2","id":"A11E008","w":21,"v":1.5},{"p":"B2","id":"A11E008","w":22,"v":1.2},{"p":"B2","id":"A11E008","w":23,"v":1.4},{"p":"B2","id":"A11E008","w":24,"v":1.5},{"p":"B2","id":"A11E008","w":25,"v":1.2},{"p":"B2","id":"A11E008","w":26,"v":2.0},{"p":"B2","id":"A11E008","w":27,"v":1.3},
{"p":"B2","id":"A11E078","w":13,"v":3.6},{"p":"B2","id":"A11E078","w":14,"v":3.5},{"p":"B2","id":"A11E078","w":15,"v":3.5},{"p":"B2","id":"A11E078","w":16,"v":3.3},{"p":"B2","id":"A11E078","w":16.5,"v":3.3},{"p":"B2","id":"A11E078","w":17,"v":3.2},{"p":"B2","id":"A11E078","w":17.5,"v":2.9},{"p":"B2","id":"A11E078","w":18,"v":2.8},{"p":"B2","id":"A11E078","w":18.5,"v":2.8},{"p":"B2","id":"A11E078","w":19,"v":3.3},{"p":"B2","id":"A11E078","w":20,"v":3.55},{"p":"B2","id":"A11E078","w":21,"v":4.3},{"p":"B2","id":"A11E078","w":22,"v":4.05},{"p":"B2","id":"A11E078","w":23,"v":4.8},{"p":"B2","id":"A11E078","w":24,"v":4.35},{"p":"B2","id":"A11E078","w":25,"v":4.95},{"p":"B2","id":"A11E078","w":26,"v":4.85},{"p":"B2","id":"A11E078","w":27,"v":4.6},
{"p":"B2","id":"A9V044","w":13,"v":2.4},{"p":"B2","id":"A9V044","w":14,"v":1.9},{"p":"B2","id":"A9V044","w":15,"v":1.2},{"p":"B2","id":"A9V044","w":16,"v":2.2},{"p":"B2","id":"A9V044","w":16.5,"v":2.0},{"p":"B2","id":"A9V044","w":17,"v":1.5},{"p":"B2","id":"A9V044","w":17.5,"v":1.9},{"p":"B2","id":"A9V044","w":18,"v":1.5},{"p":"B2","id":"A9V044","w":18.5,"v":1.3},{"p":"B2","id":"A9V044","w":19,"v":1.2},{"p":"B2","id":"A9V044","w":20,"v":1.8},{"p":"B2","id":"A9V044","w":21,"v":1.2},{"p":"B2","id":"A9V044","w":22,"v":1.2},{"p":"B2","id":"A9V044","w":23,"v":1.5},{"p":"B2","id":"A9V044","w":24,"v":1.2},{"p":"B2","id":"A9V044","w":25,"v":1.5},{"p":"B2","id":"A9V044","w":26,"v":1.9},{"p":"B2","id":"A9V044","w":27,"v":1.4},
{"p":"B2","id":"BG58","w":13,"v":3.6},{"p":"B2","id":"BG58","w":14,"v":3.5},{"p":"B2","id":"BG58","w":15,"v":3.3},{"p":"B2","id":"BG58","w":16,"v":3.15},{"p":"B2","id":"BG58","w":16.5,"v":3.0},{"p":"B2","id":"BG58","w":17,"v":2.9},{"p":"B2","id":"BG58","w":17.5,"v":2.9},{"p":"B2","id":"BG58","w":18,"v":2.85},{"p":"B2","id":"BG58","w":18.5,"v":2.8},{"p":"B2","id":"BG58","w":19,"v":2.75},{"p":"B2","id":"BG58","w":20,"v":2.6},{"p":"B2","id":"BG58","w":21,"v":2.8},{"p":"B2","id":"BG58","w":22,"v":2.75},{"p":"B2","id":"BG58","w":23,"v":2.75},{"p":"B2","id":"BG58","w":24,"v":2.4},{"p":"B2","id":"BG58","w":25,"v":2.6},{"p":"B2","id":"BG58","w":26,"v":2.65},{"p":"B2","id":"BG58","w":27,"v":2.1},
{"p":"B2","id":"BG73","w":13,"v":1.9},{"p":"B2","id":"BG73","w":14,"v":1.5},{"p":"B2","id":"BG73","w":15,"v":1.2},{"p":"B2","id":"BG73","w":16,"v":1.2},{"p":"B2","id":"BG73","w":16.5,"v":1.2},{"p":"B2","id":"BG73","w":17,"v":1.2},{"p":"B2","id":"BG73","w":17.5,"v":1.2},{"p":"B2","id":"BG73","w":18,"v":1.2},{"p":"B2","id":"BG73","w":18.5,"v":1.2},{"p":"B2","id":"BG73","w":19,"v":1.2},{"p":"B2","id":"BG73","w":20,"v":1.2},{"p":"B2","id":"BG73","w":21,"v":1.2},{"p":"B2","id":"BG73","w":22,"v":1.2},{"p":"B2","id":"BG73","w":23,"v":1.2},{"p":"B2","id":"BG73","w":24,"v":1.2},{"p":"B2","id":"BG73","w":25,"v":1.2},{"p":"B2","id":"BG73","w":26,"v":1.8},{"p":"B2","id":"BG73","w":27,"v":1.2},
{"p":"B3","id":"23212","w":13,"v":2.2},{"p":"B3","id":"23212","w":14,"v":2.4},{"p":"B3","id":"23212","w":15,"v":2.4},{"p":"B3","id":"23212","w":16,"v":2.6},{"p":"B3","id":"23212","w":16.5,"v":1.15},{"p":"B3","id":"23212","w":17,"v":1.8},{"p":"B3","id":"23212","w":17.5,"v":1.4},{"p":"B3","id":"23212","w":18,"v":1.5},{"p":"B3","id":"23212","w":18.5,"v":2.1},{"p":"B3","id":"23212","w":19,"v":1.2},{"p":"B3","id":"23212","w":20,"v":1.2},{"p":"B3","id":"23212","w":21,"v":1.4},{"p":"B3","id":"23212","w":22,"v":2.6},{"p":"B3","id":"23212","w":23,"v":2.2},{"p":"B3","id":"23212","w":24,"v":1.8},{"p":"B3","id":"23212","w":25,"v":1.2},{"p":"B3","id":"23212","w":26,"v":1.4},{"p":"B3","id":"23212","w":27,"v":1.2},
{"p":"B3","id":"25011","w":13,"v":3.75},{"p":"B3","id":"25011","w":14,"v":3.55},{"p":"B3","id":"25011","w":15,"v":3.5},{"p":"B3","id":"25011","w":16,"v":2.4},{"p":"B3","id":"25011","w":16.5,"v":2.3},{"p":"B3","id":"25011","w":17,"v":2.7},{"p":"B3","id":"25011","w":17.5,"v":2.85},{"p":"B3","id":"25011","w":18,"v":2.9},{"p":"B3","id":"25011","w":18.5,"v":2.95},{"p":"B3","id":"25011","w":19,"v":2.9},{"p":"B3","id":"25011","w":20,"v":2.85},{"p":"B3","id":"25011","w":21,"v":2.75},{"p":"B3","id":"25011","w":22,"v":3.7},{"p":"B3","id":"25011","w":23,"v":3.1},{"p":"B3","id":"25011","w":24,"v":3.6},{"p":"B3","id":"25011","w":25,"v":4.8},{"p":"B3","id":"25011","w":26,"v":3.6},{"p":"B3","id":"25011","w":27,"v":3.25},
{"p":"B3","id":"26311","w":13,"v":2.8},{"p":"B3","id":"26311","w":14,"v":2.5},{"p":"B3","id":"26311","w":15,"v":2.3},{"p":"B3","id":"26311","w":16,"v":2.4},{"p":"B3","id":"26311","w":16.5,"v":2.3},{"p":"B3","id":"26311","w":17,"v":2.5},{"p":"B3","id":"26311","w":17.5,"v":1.8},{"p":"B3","id":"26311","w":18,"v":1.8},{"p":"B3","id":"26311","w":18.5,"v":1.9},{"p":"B3","id":"26311","w":19,"v":1.5},{"p":"B3","id":"26311","w":20,"v":2.1},{"p":"B3","id":"26311","w":21,"v":1.6},{"p":"B3","id":"26311","w":22,"v":1.8},{"p":"B3","id":"26311","w":23,"v":1.8},{"p":"B3","id":"26311","w":24,"v":1.6},{"p":"B3","id":"26311","w":25,"v":1.8},{"p":"B3","id":"26311","w":26,"v":1.6},{"p":"B3","id":"26311","w":27,"v":2.2},
{"p":"B3","id":"29512","w":13,"v":3.5},{"p":"B3","id":"29512","w":14,"v":3.2},{"p":"B3","id":"29512","w":15,"v":3.1},{"p":"B3","id":"29512","w":16,"v":3.4},{"p":"B3","id":"29512","w":16.5,"v":3.1},{"p":"B3","id":"29512","w":17,"v":3.0},{"p":"B3","id":"29512","w":17.5,"v":2.95},{"p":"B3","id":"29512","w":18,"v":2.7},{"p":"B3","id":"29512","w":18.5,"v":2.8},{"p":"B3","id":"29512","w":19,"v":2.65},{"p":"B3","id":"29512","w":20,"v":2.9},{"p":"B3","id":"29512","w":21,"v":2.7},{"p":"B3","id":"29512","w":22,"v":3.1},{"p":"B3","id":"29512","w":23,"v":3.85},{"p":"B3","id":"29512","w":24,"v":3.6},{"p":"B3","id":"29512","w":25,"v":4.0},{"p":"B3","id":"29512","w":26,"v":2.9},{"p":"B3","id":"29512","w":27,"v":2.5},
{"p":"B3","id":"26711","w":13,"v":3.4},{"p":"B3","id":"26711","w":14,"v":2.9},{"p":"B3","id":"26711","w":15,"v":2.85},{"p":"B3","id":"26711","w":16,"v":3.0},{"p":"B3","id":"26711","w":16.5,"v":2.7},{"p":"B3","id":"26711","w":17,"v":2.6},{"p":"B3","id":"26711","w":17.5,"v":2.7},{"p":"B3","id":"26711","w":18,"v":2.6},{"p":"B3","id":"26711","w":18.5,"v":2.3},{"p":"B3","id":"26711","w":19,"v":2.3},{"p":"B3","id":"26711","w":20,"v":2.8},{"p":"B3","id":"26711","w":21,"v":3.0},{"p":"B3","id":"26711","w":22,"v":3.5},{"p":"B3","id":"26711","w":23,"v":2.9},{"p":"B3","id":"26711","w":24,"v":1.9},{"p":"B3","id":"26711","w":25,"v":2.7},{"p":"B3","id":"26711","w":26,"v":2.7},{"p":"B3","id":"26711","w":27,"v":2.8}
]
},
"resolve": {"scale": {"color": "independent", "stroke": "independent", "fill": "independent", "strokeDash": "independent"}, "legend": {"color": "independent", "stroke": "independent"}},
"spacing": 8,
"vconcat": [
{
 "resolve": {"scale": {"color": "independent", "stroke": "independent", "fill": "independent"}, "legend": {"color": "independent"}},
 "spacing": 1,
 "vconcat": [
 {
  "resolve": {"scale": {"color": "independent", "stroke": "independent", "fill": "independent"}, "legend": {"color": "independent"}},
  "spacing": -2,
  "hconcat": [
  {
   "width": 325, "height": 168,
   "encoding": {
    "x": {"field": "w", "type": "quantitative", "scale": {"domain": [-1.5, 59.5], "nice": false, "zero": false}, "axis": {"values": [0,5,10,15,20,25,30,35,40,45,50,55], "title": "Week post-infection", "titlePadding": 1}},
    "y": {"field": "v", "type": "quantitative", "scale": {"domain": [1, 10], "nice": false, "zero": false}, "axis": {"values": [1,2,3,4,5,6,7,8,9,10], "title": "Plasma SIV RNA (Log₁₀ copies/ml)", "titleFontSize": 9.5, "titlePadding": 3}}
   },
   "layer": [
    {"data": {"values": [{"w": 17, "w2": 24, "v": 1, "v2": 8.95}]}, "mark": {"type": "rect", "color": "#e3e3e3"}, "encoding": {"x2": {"field": "w2"}, "y2": {"field": "v2"}}},
    {"data": {"values": [{"w": -1.5, "w2": 59.3, "v": 1.09}]}, "mark": {"type": "rule", "color": "#666666", "strokeDash": [1.5, 1.5], "strokeWidth": 1}, "encoding": {"x2": {"field": "w2"}}},
    {"data": {"name": "at"}, "transform": [{"filter": "datum.g === 'Placebo'"}], "mark": {"type": "errorbar", "color": "#a0a0a0", "ticks": true, "thickness": 1}, "encoding": {"yError": {"field": "e"}}},
    {"data": {"name": "at"}, "transform": [{"filter": "datum.g === 'IFN-1ant 3x'"}], "mark": {"type": "errorbar", "color": "#92d092", "ticks": true, "thickness": 1}, "encoding": {"yError": {"field": "e"}}},
    {"data": {"name": "at"}, "mark": {"type": "line", "strokeWidth": 1.2}, "encoding": {"color": {"field": "g", "type": "nominal", "scale": {"domain": ["Placebo", "IFN-1ant 3x"], "range": ["#1a1a1a", "#3a9e3a"]}, "legend": {"orient": "none", "legendX": 251, "legendY": 2, "title": null, "symbolType": "M-1.3,0H-0.45M0.45,0H1.3M0.45,0A0.45,0.45,0,1,1,-0.45,0A0.45,0.45,0,1,1,0.45,0", "symbolSize": 81, "symbolFillColor": "#d0d0d0", "labelFontSize": 8.5, "labelOffset": 4, "rowPadding": 1}}}},
    {"data": {"name": "at"}, "mark": {"type": "point", "shape": "circle", "filled": true, "size": 22, "strokeWidth": 1}, "encoding": {"stroke": {"field": "g", "type": "nominal", "scale": {"domain": ["Placebo", "IFN-1ant 3x"], "range": ["#1a1a1a", "#3a9e3a"]}, "legend": null}, "fill": {"field": "g", "type": "nominal", "scale": {"domain": ["Placebo", "IFN-1ant 3x"], "range": ["#c8c8c8", "#b5e0b5"]}, "legend": null}}},
    {"data": {"values": [{"w": 59.7, "v": 1.12, "t": "LLQ"}]}, "mark": {"type": "text", "align": "left", "baseline": "middle", "fontSize": 7.5}, "encoding": {"text": {"field": "t"}}},
    {"data": {"values": [{"w": -8.1, "v": 10.1, "t": "A"}]}, "mark": {"type": "text", "align": "left", "baseline": "alphabetic", "fontSize": 25}, "encoding": {"text": {"field": "t"}}},
    {"data": {"values": [{"w": 27.9, "v": 10.16, "t": "No ART"}]}, "mark": {"type": "text", "align": "center", "baseline": "alphabetic", "fontSize": 12}, "encoding": {"text": {"field": "t"}}}
   ]
  },
  {
   "width": 320, "height": 168,
   "encoding": {
    "x": {"field": "w", "type": "quantitative", "scale": {"domain": [-1.2, 50.5], "nice": false, "zero": false}, "axis": {"values": [0,5,10,15,20,25,30,35,40,45,50], "title": "Week post-infection", "titlePadding": 1}},
    "y": {"field": "v", "type": "quantitative", "scale": {"domain": [1, 10], "nice": false, "zero": false}, "axis": {"values": [1,2,3,4,5,6,7,8,9,10], "title": "Plasma SIV RNA (Log₁₀ copies/ml)", "titleFontSize": 9.5, "titlePadding": 3}}
   },
   "layer": [
    {"data": {"values": [{"w": 16, "w2": 24, "v": 1, "v2": 6}]}, "mark": {"type": "rect", "color": "#e3e3e3"}, "encoding": {"x2": {"field": "w2"}, "y2": {"field": "v2"}}},
    {"data": {"values": [{"w": -1.2, "w2": 50.2, "v": 1.09}]}, "mark": {"type": "rule", "color": "#666666", "strokeDash": [1.5, 1.5], "strokeWidth": 1}, "encoding": {"x2": {"field": "w2"}}},
    {"data": {"name": "bt"}, "transform": [{"filter": "datum.g === 'Placebo'"}], "mark": {"type": "errorbar", "color": "#8a8a8a", "ticks": true, "thickness": 1}, "encoding": {"yError": {"field": "e"}}},
    {"data": {"name": "bt"}, "transform": [{"filter": "datum.g === 'IFN-1ant 2x'"}], "mark": {"type": "errorbar", "color": "#8d9ef0", "ticks": true, "thickness": 1}, "encoding": {"yError": {"field": "e"}}},
    {"data": {"name": "bt"}, "transform": [{"filter": "datum.g === 'IFN-1ant 3x'"}], "mark": {"type": "errorbar", "color": "#98d198", "ticks": true, "thickness": 1}, "encoding": {"yError": {"field": "e"}}},
    {"data": {"name": "bt"}, "mark": {"type": "line", "strokeWidth": 1.3, "point": {"filled": true, "size": 14}}, "encoding": {"color": {"field": "g", "type": "nominal", "scale": {"domain": ["Placebo", "IFN-1ant 2x", "IFN-1ant 3x"], "range": ["#111111", "#1f38e0", "#2e9a2e"]}, "legend": {"orient": "none", "legendX": 238, "legendY": 2, "title": null, "symbolType": "M-1.3,0H1.3M0.3,0A0.3,0.3,0,1,1,-0.3,0A0.3,0.3,0,1,1,0.3,0", "symbolSize": 81, "labelFontSize": 8.5, "labelOffset": 4, "rowPadding": 1.5}}}},
    {"data": {"values": [{"w": 50.6, "v": 1.3, "t": "LLQ"}]}, "mark": {"type": "text", "align": "left", "baseline": "middle", "fontSize": 7.5}, "encoding": {"text": {"field": "t"}}},
    {"data": {"values": [{"w": -7.2, "v": 10.1, "t": "B"}]}, "mark": {"type": "text", "align": "left", "baseline": "alphabetic", "fontSize": 25}, "encoding": {"text": {"field": "t"}}},
    {"data": {"values": [{"w": 23.7, "v": 10.1, "t": "+ART"}]}, "mark": {"type": "text", "align": "center", "baseline": "alphabetic", "fontSize": 12}, "encoding": {"text": {"field": "t"}}},
    {"data": {"values": [{"w": 8.2, "v": 10.05, "t": "ART start"}]}, "mark": {"type": "text", "align": "center", "baseline": "alphabetic", "fontSize": 9}, "encoding": {"text": {"field": "t"}}},
    {"data": {"values": [{"w": 8.1, "v": 9.75, "v2": 9.15}]}, "mark": {"type": "rule", "color": "#000", "strokeWidth": 1.2}, "encoding": {"y2": {"field": "v2"}}},
    {"data": {"values": [{"w": 8.1, "v": 9.12}]}, "mark": {"type": "point", "shape": "triangle-down", "filled": true, "color": "#000", "size": 22, "opacity": 1}}
   ]
  }
  ]
 },
 {
  "resolve": {"scale": {"color": "independent"}, "legend": {"color": "independent"}},
  "spacing": 102,
  "hconcat": [
  {
   "resolve": {"scale": {"color": "independent"}, "legend": {"color": "independent"}},
   "spacing": 6,
   "hconcat": [
   {
    "width": 120, "height": 109,
    "title": {"text": "Placebo"},
    "encoding": {
     "x": {"field": "w", "type": "quantitative", "scale": {"domain": [13, 27.3], "nice": false, "zero": false}, "axis": {"values": [15,20,25], "title": "Week post-infection", "labelFontSize": 7.5, "titleFontSize": 8, "labelPadding": 0, "titlePadding": 0}},
     "y": {"field": "v", "type": "quantitative", "scale": {"domain": [1, 8], "nice": false, "zero": false}, "axis": {"values": [1,2,3,4,5,6,7,8], "title": "Plasma SIV RNA (Log₁₀ copies/ml)", "labelFontSize": 7.5, "titleFontSize": 7, "titlePadding": 3}}
    },
    "layer": [
     {"data": {"values": [{"w": 16, "w2": 24, "v": 1, "v2": 8}]}, "mark": {"type": "rect", "color": "#e3e3e3"}, "encoding": {"x2": {"field": "w2"}, "y2": {"field": "v2"}}},
     {"data": {"name": "ind"}, "transform": [{"filter": "datum.p === 'AP'"}], "mark": {"type": "line", "strokeWidth": 1.1, "point": {"filled": true, "size": 10}}, "encoding": {"color": {"field": "id", "type": "nominal", "scale": {"domain": ["A11E103", "A11V038", "A11V152", "A11V111"], "range": ["#2443d6", "#a9b3f2", "#6b1f8f", "#9b59c9"]}, "legend": {"orient": "none", "legendX": 18, "legendY": 89, "columns": 2, "title": null, "symbolType": "M-1.3,0H1.3M0.35,0A0.35,0.35,0,1,1,-0.35,0A0.35,0.35,0,1,1,0.35,0", "symbolSize": 36, "labelFontSize": 7, "columnPadding": 10, "rowPadding": 1, "labelOffset": 3}}}}
    ]
   },
   {
    "width": 111, "height": 109,
    "title": {"text": "IFN-1ant 3x"},
    "encoding": {
     "x": {"field": "w", "type": "quantitative", "scale": {"domain": [13, 27.3], "nice": false, "zero": false}, "axis": {"values": [15,20,25], "title": "Week post-infection", "labelFontSize": 7.5, "titleFontSize": 8, "labelPadding": 0, "titlePadding": 0}},
     "y": {"field": "v", "type": "quantitative", "scale": {"domain": [1, 8], "nice": false, "zero": false}, "axis": {"values": [1,2,3,4,5,6,7,8], "title": null, "labelFontSize": 7.5}}
    },
    "layer": [
     {"data": {"values": [{"w": 16, "w2": 24, "v": 1, "v2": 8}]}, "mark": {"type": "rect", "color": "#e3e3e3"}, "encoding": {"x2": {"field": "w2"}, "y2": {"field": "v2"}}},
     {"data": {"name": "ind"}, "transform": [{"filter": "datum.p === 'AI'"}], "mark": {"type": "line", "strokeWidth": 1.1, "point": {"filled": true, "size": 10}}, "encoding": {"color": {"field": "id", "type": "nominal", "scale": {"domain": ["A11E061", "A11V002", "A10V055", "A11V013", "KiF", "BA50"], "range": ["#2443d6", "#b3bbf2", "#55157a", "#9b59c9", "#d9a7f0", "#b4531f"]}, "legend": {"orient": "none", "legendX": 18, "legendY": 81, "columns": 2, "title": null, "symbolType": "M-1.3,0H1.3M0.35,0A0.35,0.35,0,1,1,-0.35,0A0.35,0.35,0,1,1,0.35,0", "symbolSize": 36, "labelFontSize": 7, "columnPadding": 5, "rowPadding": 1, "labelOffset": 3}}}}
    ]
   }
   ]
  },
  {
   "resolve": {"scale": {"color": "independent"}, "legend": {"color": "independent"}},
   "spacing": 5,
   "hconcat": [
   {
    "resolve": {"scale": {"color": "independent"}, "legend": {"color": "independent"}},
    "spacing": -5,
    "hconcat": [
    {
     "width": 118, "height": 109,
     "title": {"text": "Placebo"},
     "encoding": {
      "x": {"field": "w", "type": "quantitative", "scale": {"domain": [13, 27.3], "nice": false, "zero": false}, "axis": {"values": [15,20,25], "title": "Week post-infection", "labelFontSize": 7.5, "titleFontSize": 8, "labelPadding": 0, "titlePadding": 0}},
      "y": {"field": "v", "type": "quantitative", "scale": {"domain": [1, 8], "nice": false, "zero": false}, "axis": {"values": [1,2,3,4,5,6,7,8], "title": "Plasma SIV RNA (Log₁₀ copies/ml)", "labelFontSize": 7.5, "titleFontSize": 7, "titlePadding": 3}}
     },
     "layer": [
      {"data": {"values": [{"w": 16, "w2": 24, "v": 1, "v2": 5.15}]}, "mark": {"type": "rect", "color": "#e3e3e3"}, "encoding": {"x2": {"field": "w2"}, "y2": {"field": "v2"}}},
      {"data": {"name": "ind"}, "transform": [{"filter": "datum.p === 'BP'"}], "mark": {"type": "line", "strokeWidth": 1.1, "point": {"filled": true, "size": 10}}, "encoding": {"color": {"field": "id", "type": "nominal", "scale": {"domain": ["ZJ06", "ZJ07", "ZJ53", "A10V012", "A11E030", "A11E038", "A11E071", "A9V089", "BG74"], "range": ["#1b237a", "#2c4ee0", "#b0b9f2", "#5e1b8a", "#9b55c8", "#dfb3f2", "#a33b2a", "#d9884f", "#d42a2a"]}, "legend": {"orient": "none", "legendX": 3, "legendY": 4, "columns": 3, "title": null, "symbolType": "M-1.3,0H1.3M0.35,0A0.35,0.35,0,1,1,-0.35,0A0.35,0.35,0,1,1,0.35,0", "symbolSize": 36, "labelFontSize": 6, "columnPadding": 6, "rowPadding": 1.5, "labelOffset": 3}}}}
     ]
    },
    {
     "width": 121, "height": 109,
     "title": {"text": "IFN-1ant 2x"},
     "encoding": {
      "x": {"field": "w", "type": "quantitative", "scale": {"domain": [13, 27.3], "nice": false, "zero": false}, "axis": {"values": [15,20,25], "title": "Week post-infection", "labelFontSize": 7.5, "titleFontSize": 8, "labelPadding": 0, "titlePadding": 0}},
      "y": {"field": "v", "type": "quantitative", "scale": {"domain": [1, 8], "nice": false, "zero": false}, "axis": {"values": [1,2,3,4,5,6,7,8], "title": null, "labelFontSize": 7.5}}
     },
     "layer": [
      {"data": {"values": [{"w": 16, "w2": 24, "v": 1, "v2": 5.15}]}, "mark": {"type": "rect", "color": "#e3e3e3"}, "encoding": {"x2": {"field": "w2"}, "y2": {"field": "v2"}}},
      {"data": {"name": "ind"}, "transform": [{"filter": "datum.p === 'B2'"}], "mark": {"type": "line", "strokeWidth": 1.1, "point": {"filled": true, "size": 10}}, "encoding": {"color": {"field": "id", "type": "nominal", "scale": {"domain": ["ZH40", "ZH56", "ZJ24", "A9P012", "A10E060", "A10E109", "A11E008", "A11E078", "A9V044", "BG58", "BG73"], "range": ["#1b237a", "#2c4ee0", "#a9b6f2", "#5e1b8a", "#a35fd1", "#e3bdf2", "#8c3519", "#d9884f", "#d42a2a", "#2f9a2f", "#111111"]}, "legend": {"orient": "none", "legendX": 13, "legendY": 5, "columns": 3, "title": null, "symbolType": "M-1.3,0H1.3M0.35,0A0.35,0.35,0,1,1,-0.35,0A0.35,0.35,0,1,1,0.35,0", "symbolSize": 36, "labelFontSize": 6, "columnPadding": 6, "rowPadding": 1.5, "labelOffset": 3}}}}
     ]
    }
    ]
   },
   {
    "width": 110, "height": 109,
    "title": {"text": "IFN-1ant 3x"},
    "encoding": {
     "x": {"field": "w", "type": "quantitative", "scale": {"domain": [13, 27.3], "nice": false, "zero": false}, "axis": {"values": [15,20,25], "title": "Week post-infection", "labelFontSize": 7.5, "titleFontSize": 8, "labelPadding": 0, "titlePadding": 0}},
     "y": {"field": "v", "type": "quantitative", "scale": {"domain": [1, 8], "nice": false, "zero": false}, "axis": {"values": [1,2,3,4,5,6,7,8], "title": null, "labelFontSize": 7.5}}
    },
    "layer": [
     {"data": {"values": [{"w": 16, "w2": 24, "v": 1, "v2": 5.15}]}, "mark": {"type": "rect", "color": "#e3e3e3"}, "encoding": {"x2": {"field": "w2"}, "y2": {"field": "v2"}}},
     {"data": {"name": "ind"}, "transform": [{"filter": "datum.p === 'B3'"}], "mark": {"type": "line", "strokeWidth": 1.1, "point": {"filled": true, "size": 10}}, "encoding": {"color": {"field": "id", "type": "nominal", "scale": {"domain": ["23212", "25011", "26311", "29512", "26711"], "range": ["#1b237a", "#2c4ee0", "#b0b9f2", "#6b1b7e", "#a25fc4"]}, "legend": {"orient": "none", "legendX": 25, "legendY": 4, "columns": 2, "title": null, "symbolType": "M-1.3,0H1.3M0.35,0A0.35,0.35,0,1,1,-0.35,0A0.35,0.35,0,1,1,0.35,0", "symbolSize": 36, "labelFontSize": 6, "columnPadding": 10, "rowPadding": 1.5, "labelOffset": 3}}}}
    ]
   }
   ]
  }
  ]
 }
 ]
},
{
 "width": 324, "height": 167,
 "encoding": {
  "x": {"field": "w", "type": "quantitative", "scale": {"domain": [-1.7, 67.6], "nice": false, "zero": false}, "axis": {"values": [0,5,10,15,20,25,30,35,40,45,50,55,60,65], "title": "Week post-infection", "titlePadding": 1}},
  "y": {"field": "v", "type": "quantitative", "scale": {"domain": [1, 9], "nice": false, "zero": false}, "axis": {"values": [1,2,3,4,5,6,7,8,9], "title": "Plasma SIV RNA (Log₁₀ copies/ml)", "titleFontSize": 9.5, "titlePadding": 2}}
 },
 "layer": [
  {"data": {"values": [{"w": 16, "w2": 24, "v": 1, "v2": 5.4, "b": "16 to 24"}, {"w": 35, "w2": 43, "v": 1, "v2": 5.4, "b": "35 to 43"}]}, "mark": {"type": "rect"}, "encoding": {"x2": {"field": "w2"}, "y2": {"field": "v2"}, "color": {"field": "b", "type": "nominal", "scale": {"domain": ["16 to 24", "35 to 43"], "range": ["#b9e6b9", "#f6bab5"]}, "legend": {"orient": "none", "legendX": 171, "legendY": 14, "title": null, "labelExpr": "'IFN-1ant 3x from week ' + datum.label", "symbolType": "M-1,-0.65H1V0.65H-1Z", "symbolSize": 324, "labelFontSize": 8.5, "rowPadding": 1, "labelOffset": 3, "symbolOpacity": 1, "symbolStrokeWidth": 0}}}},
  {"data": {"values": [{"w": -1.7, "w2": 67.4, "v": 1.1}]}, "mark": {"type": "rule", "color": "#555555", "strokeDash": [1.5, 1.5], "strokeWidth": 1}, "encoding": {"x2": {"field": "w2"}}},
  {"data": {"name": "cc"}, "transform": [{"filter": "datum.g === 'IFN-1ant 3x from week 16 to 24'"}], "mark": {"type": "errorbar", "color": "#86c886", "ticks": true, "thickness": 1}, "encoding": {"yError": {"field": "e"}}},
  {"data": {"name": "cc"}, "transform": [{"filter": "datum.g === 'IFN-1ant 3x from week 35 to 43'"}], "mark": {"type": "errorbar", "color": "#e07b7b", "ticks": true, "thickness": 1}, "encoding": {"yError": {"field": "e"}}},
  {"data": {"name": "cc"}, "mark": {"type": "line", "strokeWidth": 1.3}, "encoding": {"stroke": {"field": "g", "type": "nominal", "scale": {"domain": ["IFN-1ant 3x from week 16 to 24", "IFN-1ant 3x from week 35 to 43"], "range": ["#2e8b2e", "#c8161d"]}, "legend": {"orient": "none", "legendX": 171, "legendY": 14, "title": null, "labelExpr": "''", "symbolType": "M-0.6,0H0.6M0.2,0A0.2,0.2,0,1,1,-0.2,0A0.2,0.2,0,1,1,0.2,0", "symbolSize": 324, "labelFontSize": 8.5, "rowPadding": 1, "labelOffset": 3, "symbolStrokeWidth": 1.4}}, "strokeDash": {"field": "g", "type": "nominal", "scale": {"domain": ["IFN-1ant 3x from week 16 to 24", "IFN-1ant 3x from week 35 to 43"], "range": [[2, 1.5], [1, 0]]}, "legend": null}}},
  {"data": {"name": "cc"}, "mark": {"type": "point", "shape": "circle", "filled": true, "size": 18}, "encoding": {"fill": {"field": "g", "type": "nominal", "scale": {"domain": ["IFN-1ant 3x from week 16 to 24", "IFN-1ant 3x from week 35 to 43"], "range": ["#2e8b2e", "#c8161d"]}, "legend": null}}},
  {"data": {"values": [{"w": 68.0, "v": 1.2, "t": "LLQ"}]}, "mark": {"type": "text", "align": "left", "baseline": "middle", "fontSize": 7.5}, "encoding": {"text": {"field": "t"}}},
  {"data": {"values": [{"w": -9.1, "v": 9.32, "t": "C"}]}, "mark": {"type": "text", "align": "left", "baseline": "alphabetic", "fontSize": 25}, "encoding": {"text": {"field": "t"}}},
  {"data": {"values": [{"w": 8.2, "v": 9.05, "t": "ART start"}]}, "mark": {"type": "text", "align": "center", "baseline": "alphabetic", "fontSize": 9}, "encoding": {"text": {"field": "t"}}},
  {"data": {"values": [{"w": 8.2, "v": 8.7, "v2": 8.2}]}, "mark": {"type": "rule", "color": "#000", "strokeWidth": 1.2}, "encoding": {"y2": {"field": "v2"}}},
  {"data": {"values": [{"w": 8.2, "v": 8.18}]}, "mark": {"type": "point", "shape": "triangle-down", "filled": true, "color": "#000", "size": 22, "opacity": 1}}
 ]
}
]
}
